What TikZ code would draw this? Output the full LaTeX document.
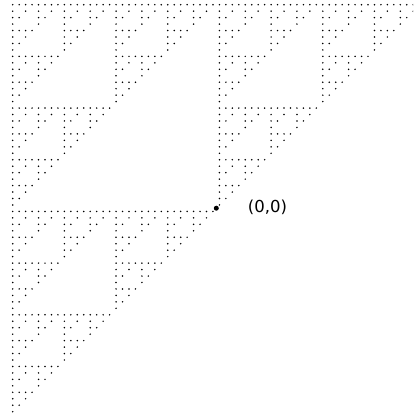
\documentclass[tikz,border=0pt]{standalone}
\usepackage{fontspec}
\setmainfont{DejaVu Sans}
\begin{document}
\begin{tikzpicture}[x=1pt,y=-1pt,
  smalldot/.style={fill=black},
  bigdot/.style={circle,fill=black,inner sep=0pt,minimum size=5pt},
  lbl/.style={anchor=base west,inner sep=0pt,font=\fontsize{16.5}{19}\selectfont}]
\useasboundingbox (0,0) rectangle (413,417);
\clip (0,0) rectangle (413,417);
\def\s{6.46}
\foreach \ax/\ay in {0/0,32/0,0/32}{
 \foreach \bx/\by in {0/0,16/0,0/16}{
  \foreach \cx/\cy in {0/0,8/0,0/8}{
   \foreach \dx/\dy in {0/0,4/0,0/4}{
    \foreach \ex/\ey in {0/0,2/0,0/2}{
     \foreach \fx/\fy in {0/0,1/0,0/1}{
      \fill[smalldot] ({12.7+(\ax+\bx+\cx+\dx+\ex+\fx)*\s},{4.7+(\ay+\by+\cy+\dy+\ey+\fy)*\s}) circle[radius=0.85pt];
     }}}}}}
\node[bigdot] (origin) at (216.3,208.2) {};
\node[lbl] (label) at (247.7,212.7) {(0,0)};
\end{tikzpicture}
\end{document}
